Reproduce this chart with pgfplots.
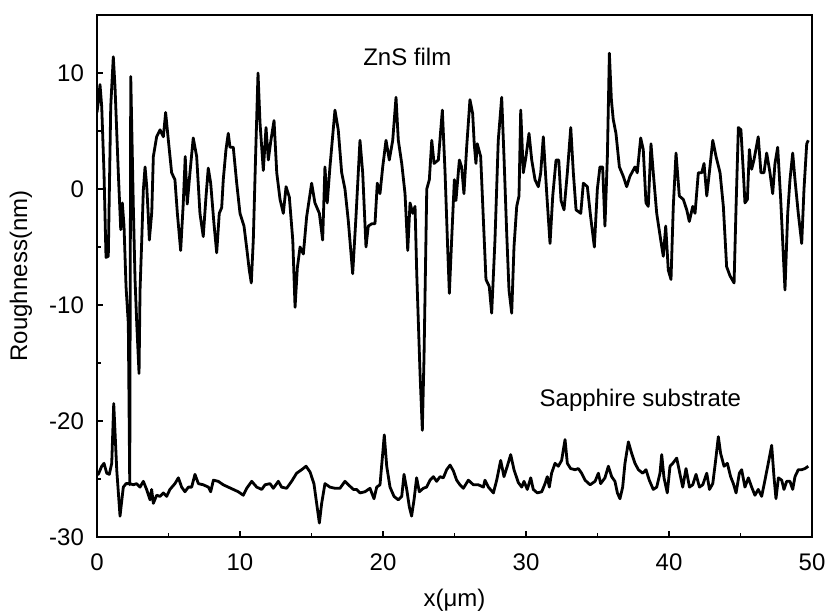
\documentclass[border=0pt]{standalone}
\usepackage{pgfplots}
\pgfplotsset{compat=1.18}
\usepackage{fontspec}
\setmainfont{Liberation Sans}
\begin{document}
\begin{tikzpicture}
\useasboundingbox (-48.5pt,-38pt) rectangle (368pt,268.5pt);
\begin{axis}[
  at={(0,0)}, anchor=south west,
  scale only axis,
  width=357.5pt, height=261pt,
  xmin=0, xmax=50, ymin=-30, ymax=15,
  xtick={0,10,20,30,40,50},
  ytick={-30,-20,-10,0,10},
  minor tick num=1,
  xtick pos=bottom, ytick pos=left,
  tick align=inside,
  major tick length=3pt, minor tick length=2pt,
  axis line style={line width=1pt},
  every tick/.style={black, line width=0.8pt},
  font=\fontsize{12}{14}\selectfont,
  /pgf/number format/assume math mode=true,
  yticklabel style={xshift=-3pt},
  xticklabel style={yshift=-5pt},
  xlabel={x(μm)},
  ylabel={Roughness(nm)},
  xlabel style={at={(axis description cs:0.5,0)}, anchor=center, yshift=-31.5pt},
  ylabel style={at={(axis description cs:0,0.5)}, anchor=center, xshift=0pt, yshift=38pt},
  clip=true,
]
\addplot[black, line width=1.4pt, line join=round] coordinates {
(0.00,6.6)(0.09,7.5)(0.21,9.0)(0.33,7.1)(0.49,1.4)(0.63,-5.9)(0.79,-5.8)(0.96,7.1)(1.14,11.4)(1.26,8.8)(1.49,1.4)(1.66,-3.5)(1.77,-1.2)(1.89,-3.2)(2.03,-8.4)(2.19,-11.6)(2.29,-25.5)(2.36,9.7)(2.54,-1.5)(2.66,-7.8)(2.78,-11.6)(2.94,-15.9)(3.01,-8.7)(3.13,-4.4)(3.24,-0.1)(3.36,1.9)(3.48,0.2)(3.59,-2.4)(3.66,-4.4)(3.83,-2.0)(3.94,2.8)(4.17,4.5)(4.41,5.1)(4.64,4.5)(4.80,6.6)(4.99,4.2)(5.22,1.4)(5.45,0.8)(5.62,-2.1)(5.85,-5.3)(6.03,-1.3)(6.17,2.8)(6.31,-1.3)(6.50,1.4)(6.73,4.4)(6.97,2.8)(7.20,-2.1)(7.43,-4.1)(7.62,-0.7)(7.78,1.8)(7.95,0.5)(8.18,-3.0)(8.37,-5.5)(8.55,-2.1)(8.72,-1.6)(8.83,0.8)(9.02,3.4)(9.18,4.8)(9.30,3.6)(9.53,3.6)(9.77,0.5)(10.00,-2.1)(10.28,-3.2)(10.46,-5.0)(10.65,-7.0)(10.79,-8.1)(10.93,-4.4)(11.09,2.8)(11.26,10.0)(11.40,5.7)(11.63,1.6)(11.82,5.3)(11.98,2.5)(12.15,4.1)(12.38,5.9)(12.57,1.4)(12.80,-0.9)(13.03,-2.1)(13.22,0.2)(13.45,-0.7)(13.69,-4.4)(13.85,-10.2)(14.01,-6.8)(14.20,-5.0)(14.43,-5.6)(14.66,-2.4)(15.01,0.5)(15.24,-1.2)(15.55,-2.1)(15.78,-4.4)(15.94,1.9)(16.10,-1.2)(16.29,1.9)(16.64,6.8)(16.87,5.1)(17.11,1.4)(17.34,0.0)(17.57,-2.7)(17.88,-7.3)(18.11,-2.4)(18.39,4.2)(18.58,1.4)(18.81,-5.0)(18.97,-3.2)(19.21,-3.0)(19.44,-3.0)(19.60,0.5)(19.79,-0.4)(19.98,1.9)(20.21,4.2)(20.44,2.5)(20.68,4.2)(20.91,7.9)(21.07,4.2)(21.31,2.2)(21.54,-0.4)(21.73,-5.3)(21.89,-1.2)(22.08,-2.1)(22.24,-1.5)(22.36,-7.3)(22.59,-15.9)(22.75,-20.8)(22.87,-14.4)(23.06,0.0)(23.24,0.8)(23.41,4.2)(23.57,2.2)(23.87,2.5)(24.15,6.8)(24.34,1.4)(24.52,-5.0)(24.64,-9.0)(24.80,-4.4)(24.99,0.8)(25.10,-1.0)(25.34,2.5)(25.50,1.9)(25.66,-0.4)(25.85,3.6)(26.08,7.7)(26.27,6.5)(26.38,3.9)(26.50,2.2)(26.59,3.9)(26.83,2.8)(27.01,-2.4)(27.20,-7.8)(27.43,-8.4)(27.60,-10.7)(27.83,-4.4)(28.06,4.2)(28.30,7.9)(28.46,2.8)(28.65,-3.8)(28.81,-8.7)(29.00,-10.7)(29.16,-5.0)(29.35,-1.5)(29.51,-0.6)(29.63,6.8)(29.81,1.4)(30.00,2.8)(30.21,4.8)(30.40,2.5)(30.63,0.8)(30.86,0.2)(31.03,1.4)(31.21,4.5)(31.45,-0.4)(31.68,-4.7)(31.87,-0.6)(32.10,2.5)(32.29,2.5)(32.45,-1.0)(32.66,-1.8)(32.89,1.4)(33.13,5.3)(33.31,1.4)(33.50,-1.8)(33.83,-2.1)(34.01,0.5)(34.29,0.2)(34.52,-2.4)(34.78,-5.0)(34.99,0.0)(35.17,1.9)(35.36,1.9)(35.52,-3.2)(35.69,2.8)(35.83,11.7)(35.97,7.7)(36.10,6.0)(36.29,4.8)(36.53,1.9)(36.80,1.1)(37.04,0.2)(37.27,1.1)(37.62,1.9)(37.78,1.4)(38.02,4.4)(38.20,3.4)(38.39,-1.2)(38.55,-1.5)(38.74,3.9)(38.90,1.4)(39.14,-2.1)(39.42,-4.4)(39.60,-5.8)(39.77,-3.2)(39.95,-7.0)(40.14,-7.8)(40.30,-1.5)(40.49,3.1)(40.72,-0.6)(41.00,-0.9)(41.24,-1.8)(41.42,-2.8)(41.66,-1.5)(41.82,-2.1)(42.05,1.4)(42.29,1.4)(42.45,2.2)(42.64,-0.6)(42.82,1.4)(43.06,4.2)(43.29,2.8)(43.57,1.4)(43.80,-1.5)(44.03,-6.7)(44.27,-7.5)(44.55,-8.1)(44.69,-1.5)(44.85,5.3)(45.03,5.1)(45.20,1.4)(45.31,-1.2)(45.48,-0.9)(45.62,3.4)(45.78,1.7)(45.94,2.5)(46.24,4.5)(46.43,1.4)(46.64,1.4)(46.83,3.1)(47.06,1.4)(47.25,-0.4)(47.41,2.2)(47.60,3.6)(47.81,-0.9)(48.11,-8.7)(48.30,-2.1)(48.46,0.8)(48.65,3.1)(48.81,0.8)(49.04,-2.1)(49.28,-4.7)(49.44,0.0)(49.63,3.9)(49.74,4.2)
};
\addplot[black, line width=1.4pt, line join=round] coordinates {
(0.00,-24.4)(0.09,-24.6)(0.33,-23.9)(0.49,-23.65)(0.68,-24.5)(0.86,-24.6)(1.03,-23.65)(1.17,-18.5)(1.38,-24.2)(1.61,-28.2)(1.84,-25.7)(2.03,-25.4)(2.31,-25.4)(2.54,-25.5)(2.77,-25.4)(3.01,-25.7)(3.24,-25.2)(3.47,-25.9)(3.71,-26.8)(3.82,-25.9)(3.94,-27.1)(4.17,-26.4)(4.41,-26.5)(4.64,-26.2)(4.87,-26.5)(5.10,-25.9)(5.45,-25.4)(5.69,-24.9)(5.92,-25.7)(6.15,-26.1)(6.39,-25.7)(6.62,-25.7)(6.85,-24.6)(7.09,-25.4)(7.43,-25.5)(7.79,-25.7)(7.95,-26.1)(8.14,-25.1)(8.48,-25.2)(8.83,-25.5)(9.18,-25.7)(9.53,-25.9)(9.88,-26.1)(10.23,-26.4)(10.47,-25.8)(10.82,-25.2)(11.17,-25.7)(11.52,-25.9)(11.75,-25.5)(12.10,-25.4)(12.33,-25.8)(12.68,-25.2)(12.91,-25.7)(13.26,-25.8)(13.61,-25.2)(13.96,-24.5)(14.31,-24.2)(14.62,-23.9)(14.90,-24.4)(15.17,-25.4)(15.36,-27.1)(15.55,-28.8)(15.71,-27.1)(15.94,-25.4)(16.29,-25.7)(16.64,-25.8)(16.99,-25.8)(17.34,-25.2)(17.58,-25.5)(17.93,-25.9)(18.16,-25.9)(18.39,-26.2)(18.74,-26.1)(19.09,-25.8)(19.37,-26.7)(19.56,-25.7)(19.79,-25.5)(19.98,-22.8)(20.09,-21.2)(20.26,-23.9)(20.49,-25.7)(20.77,-26.5)(21.07,-26.8)(21.31,-26.5)(21.47,-24.6)(21.66,-25.9)(21.84,-27.4)(22.00,-28.2)(22.17,-26.8)(22.35,-24.9)(22.54,-26.1)(22.82,-25.8)(23.05,-25.7)(23.29,-25.1)(23.52,-24.8)(23.75,-25.2)(23.99,-24.8)(24.22,-24.9)(24.45,-24.2)(24.69,-23.8)(24.92,-24.3)(25.15,-25.1)(25.38,-25.5)(25.62,-25.8)(25.97,-25.1)(26.32,-25.5)(26.67,-25.5)(27.02,-25.7)(27.13,-25.1)(27.37,-25.7)(27.72,-26.2)(27.95,-25.1)(28.23,-23.4)(28.46,-24.8)(28.69,-23.9)(28.93,-22.9)(29.16,-24.2)(29.46,-25.3)(29.70,-25.7)(29.86,-25.2)(30.09,-25.9)(30.33,-24.9)(30.51,-25.9)(30.79,-26.2)(31.10,-26.1)(31.33,-25.4)(31.49,-24.8)(31.63,-25.7)(31.79,-24.5)(32.03,-23.65)(32.26,-23.9)(32.49,-23.4)(32.73,-21.6)(32.89,-23.65)(33.12,-24.1)(33.43,-24.2)(33.66,-24.1)(33.89,-24.5)(34.13,-25.1)(34.48,-25.5)(34.83,-25.2)(35.06,-24.5)(35.22,-25.4)(35.52,-24.9)(35.76,-23.9)(35.99,-24.8)(36.22,-25.2)(36.39,-26.2)(36.57,-26.7)(36.76,-25.7)(36.92,-23.65)(37.16,-21.8)(37.39,-22.8)(37.62,-23.65)(37.86,-24.2)(38.16,-24.5)(38.39,-24.2)(38.62,-25.1)(38.90,-25.9)(39.14,-25.7)(39.37,-24.5)(39.49,-22.9)(39.65,-24.9)(39.88,-26.2)(40.07,-23.9)(40.26,-23.65)(40.54,-23.2)(40.77,-24.6)(40.96,-25.7)(41.19,-24.1)(41.43,-25.7)(41.66,-25.5)(41.89,-24.6)(42.13,-25.7)(42.36,-25.5)(42.64,-24.5)(42.83,-25.9)(43.06,-25.4)(43.26,-23.4)(43.45,-21.35)(43.61,-22.8)(43.85,-23.9)(44.08,-23.65)(44.31,-24.8)(44.50,-25.4)(44.69,-26.2)(44.92,-24.5)(45.08,-24.2)(45.31,-25.7)(45.55,-24.9)(45.78,-25.7)(46.01,-26.4)(46.24,-25.9)(46.48,-26.5)(46.71,-25.1)(46.94,-23.65)(47.18,-22.1)(47.34,-24.8)(47.48,-26.7)(47.65,-24.9)(47.88,-25.1)(48.04,-25.9)(48.23,-25.2)(48.46,-25.2)(48.65,-25.9)(48.81,-24.8)(49.04,-24.2)(49.28,-24.2)(49.51,-24.1)(49.74,-23.9)
};
\node[font=\fontsize{12}{14}\selectfont] at (axis cs:21.7,11.4) {ZnS film};
\node[font=\fontsize{12}{14}\selectfont] at (axis cs:38.0,-18.2) {Sapphire substrate};
\end{axis}
\end{tikzpicture}
\end{document}
